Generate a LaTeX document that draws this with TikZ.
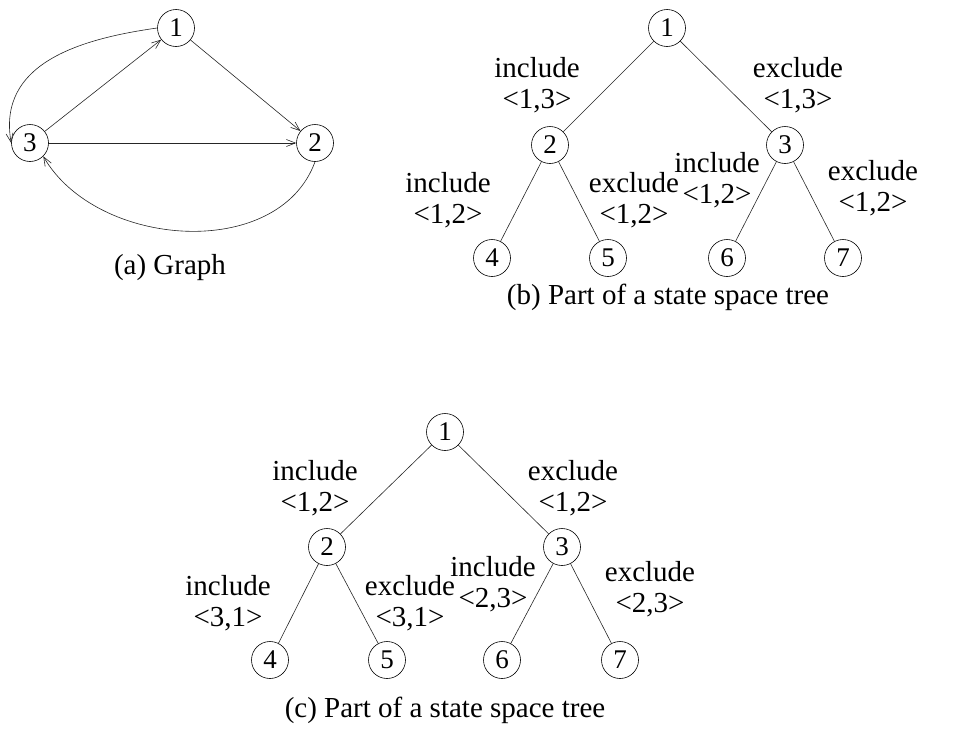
\documentclass[tikz,border=0pt]{standalone}
\usepackage{fontspec}
\setmainfont{Liberation Serif}
\usepackage{tikz}
\usetikzlibrary{arrows.meta, positioning}

\begin{document}
\begin{tikzpicture}[
  x=1pt, y=-1pt,
  vertex/.style={draw, circle, minimum size=37pt, inner sep=0pt,
    line width=0.6pt, font=\fontsize{27}{30}\selectfont},
  lbl/.style={align=center, inner sep=0pt, font=\fontsize{29}{31}\selectfont},
  caption/.style={inner sep=0pt, font=\fontsize{29}{31}\selectfont},
  edge/.style={line width=0.6pt, draw=black!85},
  >={Straight Barb[length=9pt, width=7pt]}
]
  \useasboundingbox (0,0) rectangle (956,731);

  % (a) Graph
  \node[vertex] (g1) at (176,28) {1};
  \node[vertex] (g2) at (315,143) {2};
  \node[vertex] (g3) at (30,143) {3};
  \draw[edge, ->] (g1) -- (g2);
  \draw[edge, ->] (g3) -- (g1);
  \draw[edge, ->] (g3) -- (g2);
  \draw[edge, ->] (g1.west) to[out=188, in=100, looseness=1.1] (g3.west);
  \draw[edge, ->] (g2.south) to[out=-110, in=-60] (g3.south east);
  \node[caption] (capa) at (170,268) {(a) Graph};

  % (b) state space tree
  \node[vertex] (b1) at (667,28) {1};
  \node[vertex] (b2) at (550,145) {2};
  \node[vertex] (b3) at (785,145) {3};
  \node[vertex] (b4) at (492,258) {4};
  \node[vertex] (b5) at (608,258) {5};
  \node[vertex] (b6) at (727,258) {6};
  \node[vertex] (b7) at (843,258) {7};
  \draw[edge] (b1) -- (b2);
  \draw[edge] (b1) -- (b3);
  \draw[edge] (b2) -- (b4);
  \draw[edge] (b2) -- (b5);
  \draw[edge] (b3) -- (b6);
  \draw[edge] (b3) -- (b7);
  \node[lbl] (b12) at (537,85) {include\\<1,3>};
  \node[lbl] (b13) at (798,85) {exclude\\<1,3>};
  \node[lbl] (b24) at (448,200) {include\\<1,2>};
  \node[lbl] (b25) at (634,200) {exclude\\<1,2>};
  \node[lbl] (b36) at (717,180) {include\\<1,2>};
  \node[lbl] (b37) at (873,188) {exclude\\<1,2>};
  \node[caption] (capb) at (668,297) {(b) Part of a state space tree};

  % (c) state space tree
  \node[vertex] (c1) at (445,432) {1};
  \node[vertex] (c2) at (327,547) {2};
  \node[vertex] (c3) at (562,547) {3};
  \node[vertex] (c4) at (270,660) {4};
  \node[vertex] (c5) at (387,660) {5};
  \node[vertex] (c6) at (502,660) {6};
  \node[vertex] (c7) at (620,660) {7};
  \draw[edge] (c1) -- (c2);
  \draw[edge] (c1) -- (c3);
  \draw[edge] (c2) -- (c4);
  \draw[edge] (c2) -- (c5);
  \draw[edge] (c3) -- (c6);
  \draw[edge] (c3) -- (c7);
  \node[lbl] (c12) at (315,488) {include\\<1,2>};
  \node[lbl] (c13) at (573,488) {exclude\\<1,2>};
  \node[lbl] (c24) at (228,603) {include\\<3,1>};
  \node[lbl] (c25) at (410,603) {exclude\\<3,1>};
  \node[lbl] (c36) at (493,584) {include\\<2,3>};
  \node[lbl] (c37) at (650,589) {exclude\\<2,3>};
  \node[caption] (capc) at (445,710) {(c) Part of a state space tree};
\end{tikzpicture}
\end{document}
